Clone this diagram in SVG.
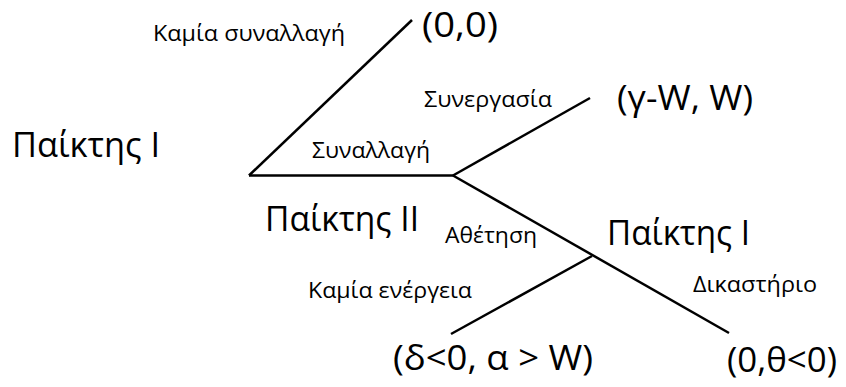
<svg xmlns="http://www.w3.org/2000/svg" width="846" height="387" viewBox="0 0 846 387">
<style>
.e{stroke:#000;stroke-width:2.5;fill:none;stroke-linecap:butt}
text{font-family:"Open Sans","Liberation Sans",sans-serif;fill:#000}
.s{font-size:21px}
.l{font-size:34px}
</style>
<rect width="846" height="387" fill="#fff"/>
<g id="connectors">
<line class="e" x1="249" y1="175.5" x2="412" y2="20"/>
<line class="e" x1="249" y1="175.5" x2="453" y2="175.5"/>
<line class="e" x1="453" y1="175.5" x2="590" y2="98"/>
<line class="e" x1="453" y1="175.5" x2="729" y2="333"/>
<line class="e" x1="592" y1="256" x2="451" y2="334"/>
</g>
<g id="edge-labels">
<text class="s" x="153" y="41" textLength="192" lengthAdjust="spacingAndGlyphs">Καμία συναλλαγή</text>
<text class="s" x="312" y="158" textLength="118" lengthAdjust="spacingAndGlyphs">Συναλλαγή</text>
<text class="s" x="424" y="107" textLength="128" lengthAdjust="spacingAndGlyphs">Συνεργασία</text>
<text class="s" x="445" y="243" textLength="92" lengthAdjust="spacingAndGlyphs">Αθέτηση</text>
<text class="s" x="308" y="298" textLength="164" lengthAdjust="spacingAndGlyphs">Καμία ενέργεια</text>
<text class="s" x="693" y="292" textLength="124" lengthAdjust="spacingAndGlyphs">Δικαστήριο</text>
</g>
<g id="node-player1-root"><text class="l" x="12" y="157" textLength="148" lengthAdjust="spacingAndGlyphs">Παίκτης I</text></g>
<g id="node-player2"><text class="l" x="265" y="231" textLength="154" lengthAdjust="spacingAndGlyphs">Παίκτης II</text></g>
<g id="node-player1-second"><text class="l" x="607" y="245" textLength="143" lengthAdjust="spacingAndGlyphs">Παίκτης I</text></g>
<g id="payoff-no-deal"><text class="l" x="422" y="37" textLength="76" lengthAdjust="spacingAndGlyphs">(0,0)</text></g>
<g id="payoff-cooperate"><text class="l" x="617" y="110" textLength="136" lengthAdjust="spacingAndGlyphs">(γ-W, W)</text></g>
<g id="payoff-no-action"><text class="l" x="393" y="370" textLength="200" lengthAdjust="spacingAndGlyphs">(δ&lt;0, α &gt; W)</text></g>
<g id="payoff-court"><text class="l" x="727" y="372" textLength="110" lengthAdjust="spacingAndGlyphs">(0,θ&lt;0)</text></g>
</svg>
